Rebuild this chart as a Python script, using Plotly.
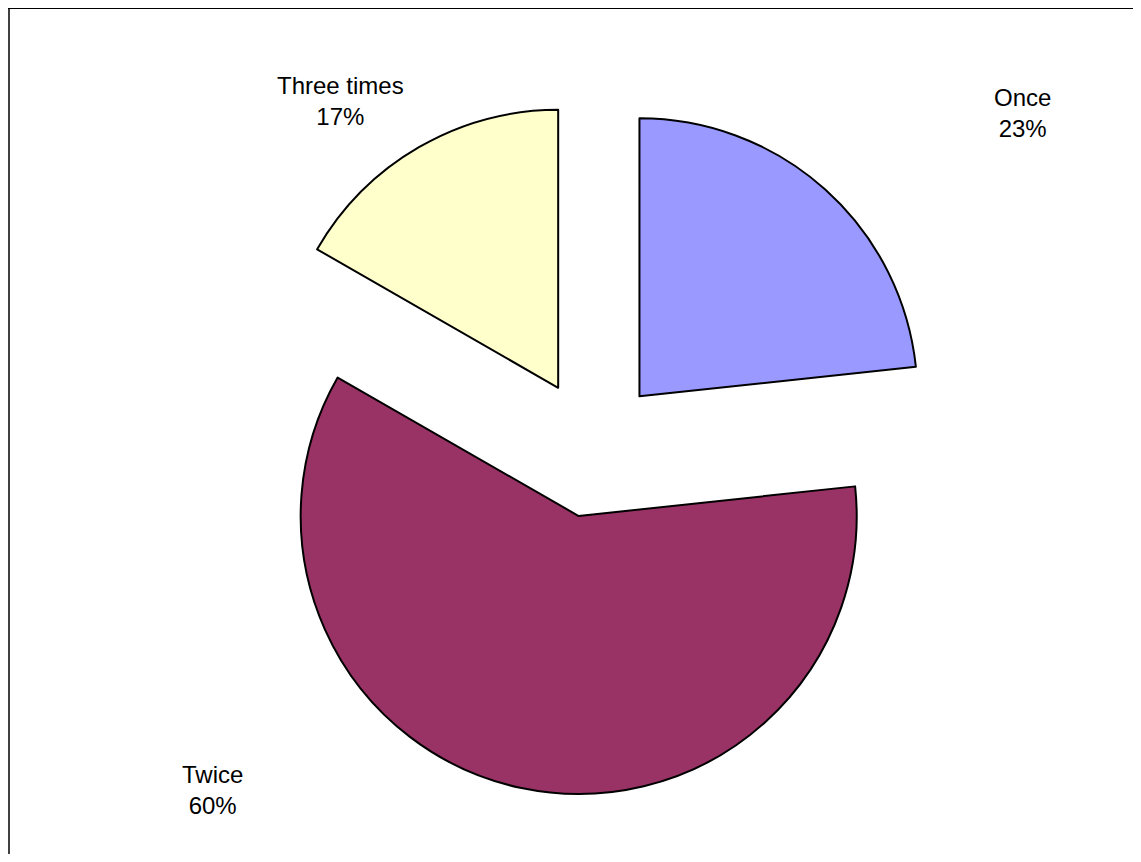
import plotly.graph_objects as go

labels = ["Once", "Twice", "Three times"]
values = [23.3, 60.0, 16.7]
colors = ["#9999FF", "#993366", "#FFFFCC"]

W, H = 1133, 846
# label anchor positions (pixels within figure)
label_px = [1014, 204, 332]
label_py = [105, 782, 93]

total = sum(values)
cx, cy, rr = 585, 440, 347.5

fig = go.Figure()
fig.add_trace(go.Pie(
    labels=labels,
    values=values,
    sort=False,
    direction="clockwise",
    rotation=0,
    pull=[0.25, 0.25, 0.25],
    marker=dict(colors=colors, line=dict(color="black", width=2)),
    textinfo="none",
    hoverinfo="label+percent",
    showlegend=False,
    domain=dict(x=[(cx - rr) / W, (cx + rr) / W],
                y=[1 - (cy + rr) / H, 1 - (cy - rr) / H]),
))

for lab, v, px, py in zip(labels, values, label_px, label_py):
    fig.add_annotation(
        x=px / W, y=1 - py / H, xref="paper", yref="paper",
        text=f"{lab}<br>{round(100 * v / total)}%",
        showarrow=False,
        font=dict(family="Liberation Sans, Arial, sans-serif", size=24, color="black"),
        align="center", xanchor="center", yanchor="middle",
    )

# chart border (left and top edges visible)
fig.add_shape(type="line", xref="paper", yref="paper",
              x0=1 / W, x1=1 / W, y0=0, y1=1,
              line=dict(color="#404040", width=2))
fig.add_shape(type="line", xref="paper", yref="paper",
              x0=0, x1=1, y0=1 - 0.5 / H, y1=1 - 0.5 / H,
              line=dict(color="black", width=1))

fig.update_layout(
    width=W, height=H,
    margin=dict(l=0, r=0, t=0, b=0),
    paper_bgcolor="white",
    plot_bgcolor="white",
)

fig.write_html("out.html")
